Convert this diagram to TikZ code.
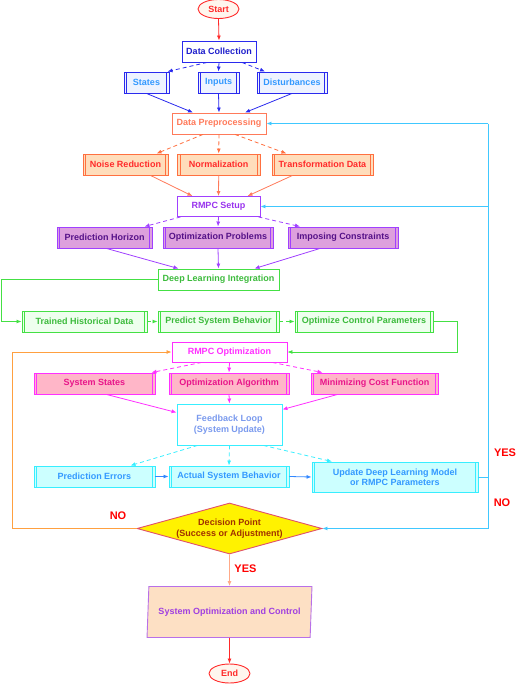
\documentclass[tikz,border=0pt]{standalone}
\usepackage{fontspec}
\setmainfont{Liberation Sans}
\usetikzlibrary{arrows.meta,shapes.geometric}
\definecolor{cRed}{HTML}{FF2A2A}
\definecolor{cStartFill}{HTML}{FFF6EE}
\definecolor{cBlueD}{HTML}{2A2AEE}
\definecolor{cBlueT}{HTML}{1E1ECC}
\definecolor{cBlueL}{HTML}{3399FF}
\definecolor{cBlueFill}{HTML}{EEF3FF}
\definecolor{cSalmon}{HTML}{FF7A5A}
\definecolor{cOrB}{HTML}{FF7040}
\definecolor{cPeach}{HTML}{FFDDBB}
\definecolor{cPurp}{HTML}{A040FF}
\definecolor{cPurpT}{HTML}{9933EE}
\definecolor{cPlum}{HTML}{DDA0DD}
\definecolor{cPurpD}{HTML}{551188}
\definecolor{cGreen}{HTML}{44E044}
\definecolor{cGreenT}{HTML}{3CBB3C}
\definecolor{cGreenFill}{HTML}{EEFFEE}
\definecolor{cMag}{HTML}{FF30FF}
\definecolor{cPink}{HTML}{FFB6C8}
\definecolor{cPinkT}{HTML}{E8158A}
\definecolor{cCyan}{HTML}{38EEFF}
\definecolor{cCyanFill}{HTML}{CCFFFF}
\definecolor{cFbT}{HTML}{7A9AEE}
\definecolor{cArrB}{HTML}{3388FF}
\definecolor{cLoopB}{HTML}{40C8FF}
\definecolor{cOrange}{HTML}{FFA040}
\definecolor{cDiaB}{HTML}{E0506A}
\definecolor{cDiaT}{HTML}{A03000}
\definecolor{cParaFill}{HTML}{FDE0C4}
\definecolor{cParaB}{HTML}{B870E8}
\definecolor{cParaT}{HTML}{A040E0}
\definecolor{cYesArr}{HTML}{FFAA88}
\begin{document}
\begin{tikzpicture}[x=1pt,y=-1pt,
  base/.style={inner sep=0pt, line width=0.9pt, font=\bfseries\fontsize{9}{10.4}\selectfont, align=center},
  box/.style={base, draw, rectangle},
  wh/.style n args={2}{minimum width=#1pt, minimum height=#2pt},
  pp/.style={box, path picture={\draw[line width=0.6pt,#1]
     ([xshift=2.6pt]path picture bounding box.north west) -- ([xshift=2.6pt]path picture bounding box.south west)
     ([xshift=-2.6pt]path picture bounding box.north east) -- ([xshift=-2.6pt]path picture bounding box.south east);}},
  term/.style={base, draw=cRed, fill=cStartFill, text=cRed, ellipse, wh={41}{19}},
  arr/.style={line width=0.8pt, -{Latex[length=5pt,width=4pt]}},
  dsh/.style={dash pattern=on 4pt off 3pt},
  lbl/.style={font=\bfseries\fontsize{11}{12}\selectfont, text=red, inner sep=0pt}
]
\useasboundingbox (0,0) rectangle (517,685);

% ---------- nodes ----------
\node[term] (start) at (218.5,9) {Start};
\node[box, draw=cBlueD, fill=white, text=cBlueT, wh={74}{21}] (dc) at (219,51.5) {Data Collection};
\node[pp=cBlueD, draw=cBlueD, fill=cBlueFill, text=cBlueL, wh={45}{21}] (states) at (146.5,82.5) {States};
\node[pp=cBlueD, draw=cBlueD, fill=cBlueFill, text=cBlueL, wh={41}{21}] (inputs) at (218.5,82.5) {Inputs};
\node[pp=cBlueD, draw=cBlueD, fill=cBlueFill, text=cBlueL, wh={70}{21}] (dist) at (292,82.5) {Disturbances};

\node[box, draw=cSalmon, fill=white, text=cSalmon, wh={94}{21}] (dp) at (219,123.5) {Data Preprocessing};
\node[pp=cOrB, draw=cOrB, fill=cPeach, text=cRed, wh={85}{21}] (noise) at (125.5,164.5) {Noise Reduction};
\node[pp=cOrB, draw=cOrB, fill=cPeach, text=cRed, wh={83}{21}] (norm) at (218.7,164.5) {Normalization};
\node[pp=cOrB, draw=cOrB, fill=cPeach, text=cRed, wh={101}{21}] (trans) at (322.5,164.5) {Transformation Data};

\node[box, draw=cPurp, fill=white, text=cPurpT, wh={83}{20}] (setup) at (218.5,206.5) {RMPC Setup};
\node[pp=cPurp, draw=cPurp, fill=cPlum, text=cPurpD, wh={95}{21}] (ph) at (104.5,237.5) {Prediction Horizon};
\node[pp=cPurp, draw=cPurp, fill=cPlum, text=cPurpD, wh={110}{21}] (op) at (218,237.5) {Optimization Problems};
\node[pp=cPurp, draw=cPurp, fill=cPlum, text=cPurpD, wh={110}{21}] (ic) at (343,237.5) {Imposing Constraints};

\node[box, draw=cGreen, fill=white, text=cGreenT, wh={121}{21}] (dli) at (218.5,279.5) {Deep Learning Integration};
\node[pp=cGreen, draw=cGreen, fill=cGreenFill, text=cGreenT, wh={125}{21}] (thd) at (84.5,321.5) {Trained Historical Data};
\node[pp=cGreen, draw=cGreen, fill=cGreenFill, text=cGreenT, wh={121}{21}] (psb) at (218.5,321.5) {Predict System Behavior};
\node[pp=cGreen, draw=cGreen, fill=cGreenFill, text=cGreenT, wh={138}{21}] (ocp) at (364,321.5) {Optimize Control Parameters};

\node[box, draw=cMag, fill=white, text=cMag, wh={115}{20}] (ropt) at (229.5,352) {RMPC Optimization};
\node[pp=cMag, draw=cMag, fill=cPink, text=cPinkT, wh={121}{21}] (ss) at (94.5,383.5) {System States};
\node[pp=cMag, draw=cMag, fill=cPink, text=cPinkT, wh={120}{21}] (oa) at (229,383.5) {Optimization Algorithm};
\node[pp=cMag, draw=cMag, fill=cPink, text=cPinkT, wh={127}{21}] (mcf) at (374.5,383.5) {Minimizing Cost Function};

\node[box, draw=cCyan, fill=white, text=cFbT, wh={105}{41}] (fb) at (229.5,424.5) {Feedback Loop\\(System Update)};
\node[pp=cCyan, draw=cCyan, fill=cCyanFill, text=cBlueL, wh={121}{21}] (pe) at (94.5,476.5) {Prediction Errors};
\node[pp=cCyan, draw=cCyan, fill=cCyanFill, text=cBlueL, wh={120}{21}] (asb) at (229,476.5) {Actual System Behavior};
\node[pp=cCyan, draw=cCyan, fill=cCyanFill, text=cBlueL, wh={166}{30}] (upd) at (395,477) {Update Deep Learning Model\\or RMPC Parameters};

\node[base, draw=cDiaB, fill=yellow, text=cDiaT, diamond, aspect=4, wh={185}{51}] (dec) at (229.5,528.5) {Decision Point\\(Success or Adjustment)};
\node[base, draw=cParaB, fill=cParaFill, text=cParaT, trapezium, trapezium left angle=79, trapezium right angle=101, trapezium stretches=true, wh={165}{51}] (para) at (229.5,612) {System Optimization and Control};
\node[term] (end) at (229.5,673.5) {End};

% ---------- helper coordinates ----------
\coordinate (gxl) at (1,0);
\coordinate (gxr) at (457,0);
\coordinate (ox) at (12,0);
\coordinate (bx) at (488,0);

% ---------- connectors ----------
\draw[arr, cRed] (start.south) -- (dc.north);
\draw[arr, cBlueD, dsh] ([xshift=-12pt]dc.south) -- ([xshift=21pt]states.north);
\draw[arr, cBlueD] (dc.south) -- (inputs.north);
\draw[arr, cBlueD, dsh] ([xshift=23pt]dc.south) -- ([xshift=-27pt]dist.north);
\draw[arr, cBlueD] (states.south) -- ([xshift=-26pt]dp.north);
\draw[arr, cBlueD] (inputs.south) -- (dp.north);
\draw[arr, cBlueD] (dist.south) -- ([xshift=26pt]dp.north);

\draw[arr, cOrB, dsh] ([xshift=-16pt]dp.south) -- ([xshift=31pt]noise.north);
\draw[arr, cOrB, dsh] (dp.south) -- (norm.north);
\draw[arr, cOrB, dsh] ([xshift=16pt]dp.south) -- ([xshift=-36pt]trans.north);
\draw[arr, cSalmon] ([xshift=25pt]noise.south) -- ([xshift=-26pt]setup.north);
\draw[arr, cSalmon] (norm.south) -- (setup.north);
\draw[arr, cSalmon] ([xshift=-30pt]trans.south) -- ([xshift=29pt]setup.north);

\draw[arr, cPurp, dsh] ([xshift=-38pt]setup.south) -- ([xshift=40pt]ph.north);
\draw[arr, cPurp] (setup.south) -- (op.north);
\draw[arr, cPurp, dsh] ([xshift=40pt]setup.south) -- ([xshift=-43pt]ic.north);
\draw[arr, cPurp] ([xshift=2pt]ph.south) -- ([xshift=-40pt]dli.north);
\draw[arr, cPurp] (op.south) -- (dli.north);
\draw[arr, cPurp] ([xshift=-23pt]ic.south) -- ([xshift=36pt]dli.north);

\draw[arr, cGreen] (dli.west) -- (dli.west -| gxl) |- (thd.west);
\draw[arr, cGreen, dsh] (thd.east) -- (psb.west);
\draw[arr, cGreen, dsh] (psb.east) -- (ocp.west);
\draw[arr, cGreen] (ocp.east) -- (ocp.east -| gxr) |- (ropt.east);

\draw[arr, cMag, dsh] ([xshift=-28pt]ropt.south) -- ([xshift=57pt]ss.north);
\draw[arr, cMag] (ropt.south) -- (oa.north);
\draw[arr, cMag, dsh] ([xshift=43pt]ropt.south) -- ([xshift=-52pt]mcf.north);
\draw[arr, cMag] ([xshift=12pt]ss.south) -- ([yshift=12pt]fb.west);
\draw[arr, cMag] (oa.south) -- (fb.north);
\draw[arr, cMag] ([xshift=-37pt]mcf.south) -- ([yshift=15pt]fb.east);

\draw[arr, cCyan, dsh] ([xshift=-32pt]fb.south) -- ([xshift=36pt]pe.north);
\draw[arr, cCyan, dsh] (fb.south) -- (asb.north);
\draw[arr, cCyan, dsh] ([xshift=34pt]fb.south) -- ([xshift=-63pt]upd.north);
\draw[arr, cArrB] (pe.east) -- (asb.west);
\draw[arr, cArrB] (asb.east) -- (upd.west);

\draw[line width=0.8pt, cLoopB] (upd.east) -- (upd.east -| bx);
\draw[line width=0.8pt, cLoopB] (bx |- dp.east) -- (bx |- dec.east);
\draw[arr, cLoopB] (bx |- dp.east) -- (dp.east);
\draw[arr, cLoopB] (bx |- setup.east) -- (setup.east);
\draw[arr, cLoopB] (bx |- dec.east) -- (dec.east);

\draw[arr, cOrange] (dec.west) -- (dec.west -| ox) |- (ropt.west);
\draw[arr, cYesArr] (dec.south) -- (para.north);
\draw[arr, cRed] (para.south) -- (end.north);

% ---------- labels ----------
\node[lbl] (yesR) at (505,453) {YES};
\node[lbl] (noR) at (502,503) {NO};
\node[lbl] (noL) at (118,516) {NO};
\node[lbl] (yesB) at (245.5,569) {YES};
\end{tikzpicture}
\end{document}
